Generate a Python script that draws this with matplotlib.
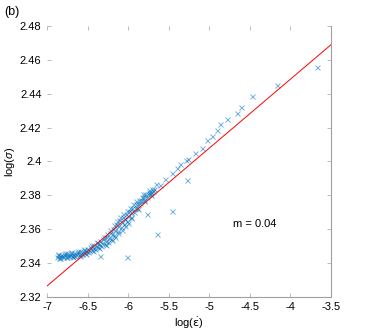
import matplotlib
matplotlib.use("Agg")
import matplotlib.pyplot as plt

plt.rcParams['font.family'] = ['Liberation Sans', 'DejaVu Sans']
plt.rcParams['mathtext.fontset'] = 'custom'
plt.rcParams['mathtext.rm'] = 'Liberation Sans'
plt.rcParams['mathtext.it'] = 'Liberation Sans:italic'

# middle of the dense band
core_x = [-6.88, -6.84, -6.80, -6.76, -6.72, -6.68, -6.64, -6.60, -6.56, -6.52,
          -6.48, -6.44, -6.40, -6.36, -6.32, -6.28, -6.24, -6.20, -6.16, -6.12,
          -6.08, -6.04, -6.00, -5.96, -5.92, -5.88, -5.84, -5.80, -5.76, -5.72, -5.68]
core_y = [2.3437, 2.3440, 2.3443, 2.3446, 2.3448, 2.3450, 2.3453, 2.3456, 2.3463, 2.3471,
          2.3480, 2.3490, 2.3500, 2.3510, 2.3520, 2.3533, 2.3550, 2.3572, 2.3596, 2.3620,
          2.3640, 2.3658, 2.3678, 2.3700, 2.3724, 2.3748, 2.3772, 2.3790, 2.3806, 2.3822, 2.3840]

# just above the middle
mid_upper_x = [-6.87, -6.83, -6.79, -6.75, -6.71, -6.67, -6.63, -6.59, -6.55, -6.51,
               -6.47, -6.43, -6.39, -6.35, -6.31, -6.27, -6.23, -6.19, -6.15, -6.11,
               -6.07, -6.03, -5.99, -5.95, -5.91, -5.87, -5.83, -5.79, -5.75, -5.71]
mid_upper_y = [2.3447, 2.3450, 2.3455, 2.3457, 2.3459, 2.3462, 2.3465, 2.3469, 2.3477, 2.3486,
               2.3496, 2.3507, 2.3518, 2.3529, 2.3541, 2.3556, 2.3578, 2.3602, 2.3628, 2.3652,
               2.3672, 2.3690, 2.3708, 2.3728, 2.3750, 2.3772, 2.3793, 2.3808, 2.3822, 2.3837]

# just below the middle
mid_lower_x = [-6.85, -6.81, -6.77, -6.73, -6.69, -6.65, -6.61, -6.57, -6.53, -6.49,
               -6.45, -6.41, -6.37, -6.33, -6.29, -6.25, -6.21, -6.17, -6.13, -6.09,
               -6.05, -6.01, -5.97, -5.93, -5.89, -5.85, -5.81, -5.77, -5.73, -5.69]
mid_lower_y = [2.3431, 2.3434, 2.3437, 2.3439, 2.3441, 2.3444, 2.3446, 2.3451, 2.3458, 2.3466,
               2.3475, 2.3484, 2.3493, 2.3502, 2.3513, 2.3527, 2.3544, 2.3566, 2.3590, 2.3611,
               2.3631, 2.3651, 2.3675, 2.3700, 2.3726, 2.3752, 2.3773, 2.3791, 2.3808, 2.3825]

# upper edge of the band
upper_x = [-6.86, -6.78, -6.70, -6.62, -6.54, -6.46, -6.38, -6.30, -6.22, -6.14,
           -6.06, -5.98, -5.90, -5.82, -5.74, -5.66, -6.26, -6.18, -6.10, -6.02, -5.94]
upper_y = [2.3454, 2.3462, 2.3465, 2.3472, 2.3485, 2.3505, 2.3527, 2.3552, 2.3596, 2.3648,
           2.3689, 2.3724, 2.3766, 2.3806, 2.3834, 2.3865, 2.3571, 2.3624, 2.3675, 2.3708, 2.3747]

# lower edge of the band
lower_x = [-6.84, -6.76, -6.68, -6.60, -6.52, -6.44, -6.36, -6.28, -6.20, -6.12,
           -6.04, -5.96, -5.88, -5.80, -5.72, -6.16, -6.08, -6.00]
lower_y = [2.3428, 2.3433, 2.3436, 2.3442, 2.3455, 2.3472, 2.3490, 2.3508, 2.3537, 2.3580,
           2.3618, 2.3665, 2.3718, 2.3765, 2.3802, 2.3556, 2.3595, 2.3638]

# sparse points at high strain rate
tail_x = [-5.607, -5.546, -5.459, -5.398, -5.361, -5.287, -5.262, -5.176, -5.090, -5.028,
          -4.966, -4.905, -4.868, -4.782, -4.658, -4.609, -4.473, -4.165, -3.672]
tail_y = [2.3861, 2.3896, 2.3932, 2.3961, 2.3985, 2.4008, 2.4014, 2.4050, 2.4079, 2.4126,
          2.4150, 2.4185, 2.4221, 2.4250, 2.4286, 2.4321, 2.4386, 2.4451, 2.4557]

# outliers
out_x = [-6.347, -6.014, -5.768, -5.644, -5.459, -5.275]
out_y = [2.3442, 2.3436, 2.3690, 2.3572, 2.3707, 2.3890]

# fitted line
fit_x = [-7.0, -3.5]
fit_y = [2.3265, 2.4690]
slope_text = "m = 0.04"

xticks = [-7, -6.5, -6, -5.5, -5, -4.5, -4, -3.5]
xticklabels = ["-7", "-6.5", "-6", "-5.5", "-5", "-4.5", "-4", "-3.5"]
yticks = [2.32, 2.34, 2.36, 2.38, 2.40, 2.42, 2.44, 2.46, 2.48]
yticklabels = ["2.32", "2.34", "2.36", "2.38", "2.4", "2.42", "2.44", "2.46", "2.48"]

blue = (0, 0.447, 0.741)

fig = plt.figure(figsize=(3.65, 3.34), dpi=100)
ax = fig.add_axes([0.129, 0.111, 0.778, 0.811])

groups = [(core_x, core_y), (mid_upper_x, mid_upper_y), (mid_lower_x, mid_lower_y),
          (upper_x, upper_y), (lower_x, lower_y), (tail_x, tail_y), (out_x, out_y)]
for xs, ys in groups:
    ax.plot(xs, ys, linestyle='none', marker='x', color=blue, markersize=3.6,
            markeredgewidth=0.7, alpha=0.55)

ax.plot(fit_x, fit_y, color='red', linewidth=0.7)
ax.text(-4.71, 2.363, slope_text, fontsize=8, va='center')

ax.set_xlim(-7, -3.5)
ax.set_ylim(2.32, 2.48)
ax.set_xticks(xticks)
ax.set_xticklabels(xticklabels)
ax.set_yticks(yticks)
ax.set_yticklabels(yticklabels)
ax.tick_params(direction='in', length=3, width=0.6, color='#b0b0b0',
               labelsize=8, top=True, right=True, pad=4)

for s in ['left', 'top']:
    ax.spines[s].set_visible(False)
for s in ['right', 'bottom']:
    ax.spines[s].set_color('#a0a0a0')
    ax.spines[s].set_linewidth(0.8)

ax.set_xlabel(r"log($\dot{\mathrm{\epsilon}}$)", fontsize=8, labelpad=2,
              math_fontfamily='dejavusans')
ax.set_ylabel(r"log($\sigma$)", fontsize=8, labelpad=2)

fig.text(0.012, 0.965, "(b)", fontsize=9, va='center')

fig.savefig("out.png", dpi=100)
